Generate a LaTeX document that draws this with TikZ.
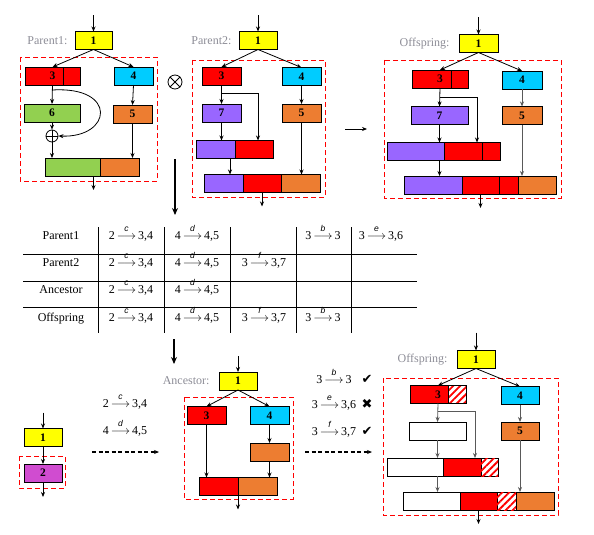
\documentclass[tikz,border=0pt]{standalone}
\usepackage{fontspec}
\setmainfont{Liberation Serif}
\setsansfont{Liberation Sans}
\newfontfamily\symfont{DejaVu Sans}
\usepackage{amsmath}
\usetikzlibrary{positioning,arrows.meta,patterns.meta}
\definecolor{cyel}{HTML}{FFFF00}
\definecolor{cred}{HTML}{FF0000}
\definecolor{ccyan}{HTML}{00CCFF}
\definecolor{cgreen}{HTML}{92D050}
\definecolor{corange}{HTML}{ED7D31}
\definecolor{cpurple}{HTML}{9966FF}
\definecolor{cmag}{HTML}{D04CD0}
\definecolor{clbl}{HTML}{8C8C96}
\newcommand{\rul}[3]{#1$\,\overset{\raisebox{0.5pt}{\fontsize{8.5}{8.5}\sffamily\itshape #2}}{\longrightarrow}\,$#3}
\tikzset{
  every node/.style={font=\fontsize{12}{14}\selectfont},
  box/.style={draw, line width=.8pt, minimum height=18, inner sep=0, outer sep=0, font=\fontsize{11.5}{13}\selectfont\bfseries},
  hatch/.style={box, fill=white, postaction={pattern={Lines[angle=45,distance=5pt,line width=1.8pt]}, pattern color=cred}},
  lbl/.style={text=clbl},
  cell/.style={anchor=base, inner sep=0pt},
  arr/.style={-{Stealth[length=5pt,width=4pt]}, line width=.8pt},
  garr/.style={arr, draw=black!65},
  bigarr/.style={-{Stealth[length=7pt,width=6pt]}, line width=2.2pt},
  darr/.style={arr, dash pattern=on 4pt off 2.5pt, line width=1.2pt},
  dbox/.style={draw=cred, dash pattern=on 5pt off 3pt, line width=.9pt}
}
\begin{document}
\begin{tikzpicture}[x=1pt, y=-1pt]
  \useasboundingbox (0,0) rectangle (594,535);
  % Parent1
  \node[box, fill=cyel, minimum width=37] (a1) at (93.5,40.5) {1};
  \node[lbl, left=4pt of a1] (a1l) {Parent1:};
  \draw[dbox] (20,57) rectangle (157,181);
  \node[box, fill=cred, minimum width=55] (a3) at (52.5,76) {3};
  \draw[line width=.8pt] ([shift={(38,0)}]a3.north west) -- ([shift={(38,0)}]a3.south west);
  \node[box, fill=ccyan, minimum width=39] (a4) at (133.5,76) {4};
  \node[box, fill=cgreen, minimum width=56] (a6) at (52,113) {6};
  \node[box, fill=corange, minimum width=39] (a5) at (132.5,114) {5};
  \node[circle, draw, line width=.8pt, minimum size=12, inner sep=0] (aplus) at (52,136) {};
  \draw[line width=.8pt] (aplus.north) -- (aplus.south) (aplus.west) -- (aplus.east);
  \node[box, fill=cgreen, minimum width=55, anchor=west] (ab1) at (45,167) {};
  \node[box, fill=corange, minimum width=39, anchor=west] (ab2) at (ab1.east) {};
  \draw[arr] ([shift={(0,-16)}]a1.north) -- (a1);
  \draw[arr] (a1.south) -- (a3.north);
  \draw[arr] (a1.south) -- (a4.north);
  \draw[arr] (a3.south) -- (a6.north);
  \draw[arr] ([shift={(0,5)}]a3.south) .. controls (118,86) and (112,138) .. (aplus.east);
  \draw[arr] (a6.south) -- (aplus.north);
  \draw[arr] (aplus.south) -- (aplus.south |- ab1.north);
  \draw[arr] (a4.south) -- (a5.north);
  \draw[arr] (a5.south) -- (a5.south |- ab2.north);
  \draw[arr] (a1.south |- ab1.south) -- ++(0,14);
  % crossover sign
  \node[circle, draw, line width=.8pt, minimum size=14, inner sep=0] (xo) at (175,82) {};
  \draw[line width=.8pt] (xo.north east) -- (xo.south west) (xo.north west) -- (xo.south east);
  % Parent2
  \node[box, fill=cyel, minimum width=38] (b1) at (258,40.5) {1};
  \node[lbl, left=4pt of b1] (b1l) {Parent2:};
  \draw[dbox] (192,60) rectangle (325,197);
  \node[box, fill=cred, minimum width=39] (b3) at (221.5,76) {3};
  \node[box, fill=ccyan, minimum width=39] (b4) at (301.5,76.5) {4};
  \node[box, fill=cpurple, minimum width=39] (b7) at (221.5,113) {7};
  \node[box, fill=corange, minimum width=39] (b5) at (301.5,113) {5};
  \node[box, fill=cpurple, minimum width=39, anchor=west] (bm1) at (196,149.5) {};
  \node[box, fill=cred, minimum width=38, anchor=west] (bm2) at (bm1.east) {};
  \node[box, fill=cpurple, minimum width=39, anchor=west] (bb1) at (204,183.5) {};
  \node[box, fill=cred, minimum width=38, anchor=west] (bb2) at (bb1.east) {};
  \node[box, fill=corange, minimum width=39, anchor=west] (bb3) at (bb2.east) {};
  \draw[arr] ([shift={(0,-16)}]b1.north) -- (b1);
  \draw[arr] (b1.south) -- (b3.north);
  \draw[arr] (b1.south) -- (b4.north);
  \draw[arr] (b3.south) -- (b7.north);
  \draw[arr] ([shift={(0,8)}]b3.south) -| ([shift={(4,0)}]bm2.north);
  \draw[arr] (b7.south) -- (b7.south |- bm1.north);
  \draw[arr] ([shift={(-5,0)}]bm1.south east) -- ([shift={(-5,0)}]bm1.south east |- bb1.north);
  \draw[arr] (b4.south) -- (b5.north);
  \draw[arr] (b5.south) -- (b5.south |- bb3.north);
  \draw[arr] (bb2.south) -- ++(0,14);
  % to offspring
  \coordinate (g1) at (345,129); \coordinate (g2) at (367,129);
  \draw[arr] (g1) -- (g2);
  % Offspring
  \node[box, fill=cyel, minimum width=39] (c1) at (478.5,43.5) {1};
  \node[lbl, left=6pt of c1] (c1l) {Offspring:};
  \draw[dbox] (384,60) rectangle (561,198);
  \node[box, fill=cred, minimum width=56] (c3) at (440,79) {3};
  \draw[line width=.8pt] ([shift={(39,0)}]c3.north west) -- ([shift={(39,0)}]c3.south west);
  \node[box, fill=ccyan, minimum width=40] (c4) at (522,80) {4};
  \node[box, fill=cpurple, minimum width=57] (c7) at (439.5,115.5) {7};
  \node[box, fill=corange, minimum width=40] (c5) at (522,115.5) {5};
  \node[box, fill=cpurple, minimum width=57, anchor=west] (cm1) at (387,151.5) {};
  \node[box, fill=cred, minimum width=38, anchor=west] (cm2) at (cm1.east) {};
  \node[box, fill=cred, minimum width=18, anchor=west] (cm3) at (cm2.east) {};
  \node[box, fill=cpurple, minimum width=58, anchor=west] (cb1) at (404,185) {};
  \node[box, fill=cred, minimum width=37, anchor=west] (cb2) at (cb1.east) {};
  \node[box, fill=cred, minimum width=19, anchor=west] (cb3) at (cb2.east) {};
  \node[box, fill=corange, minimum width=38, anchor=west] (cb4) at (cb3.east) {};
  \draw[arr] ([shift={(0,-17)}]c1.north) -- (c1);
  \draw[arr] (c1.south) -- (c3.north);
  \draw[arr] (c1.south) -- (c4.north);
  \draw[arr] (c3.south) -- (c7.north);
  \draw[arr] ([shift={(0,9)}]c3.south) -| ([shift={(-5,0)}]cm2.north east);
  \draw[arr] (c7.south) -- (c7.south |- cm1.north);
  \draw[arr] (c7.south |- cm1.south) -- (c7.south |- cb1.north);
  \draw[garr] (c4.south) -- (c5.north);
  \draw[garr] (c5.south) -- (c5.south |- cb4.north);
  \draw[arr] (cb2.south) -- ++(0,14);
  % down to the table
  \coordinate (h1) at (175,159); \coordinate (h2) at (175,215);
  \draw[bigarr] (h1) -- (h2);
  % table
  \foreach \y in {254,281,307} \draw[line width=.8pt] (23,\y) -- (417,\y);
  \foreach \x in {98,164,230,296,351} \draw[line width=.8pt] (\x,227) -- (\x,333);
  \foreach \n/\y in {Parent1/239, Parent2/266, Ancestor/293, Offspring/321}
    \node[cell] (t\n) at (61,\y) {\n};
  \foreach \x/\y/\t [count=\i] in {131/239/{\rul{2}{c}{3,4}}, 197/239/{\rul{4}{d}{4,5}},
      323/239/{\rul{3}{b}{3}}, 381/239/{\rul{3}{e}{3,6}},
      131/266/{\rul{2}{c}{3,4}}, 197/266/{\rul{4}{d}{4,5}}, 264/266/{\rul{3}{f}{3,7}},
      131/293/{\rul{2}{c}{3,4}}, 197/293/{\rul{4}{d}{4,5}},
      131/321/{\rul{2}{c}{3,4}}, 197/321/{\rul{4}{d}{4,5}}, 264/321/{\rul{3}{f}{3,7}},
      323/321/{\rul{3}{b}{3}}}
    \node[cell] (tc\i) at (\x,\y) {\t};
  \coordinate (h3) at (174,339); \coordinate (h4) at (174,364);
  \draw[bigarr] (h3) -- (h4);
  % root
  \node[box, fill=cyel, minimum width=38] (d1) at (43,437.5) {1};
  \draw[dbox] (19,456) rectangle (65,488);
  \node[box, fill=cmag, minimum width=38] (d2) at (43,473) {2};
  \draw[arr] ([shift={(0,-16)}]d1.north) -- (d1);
  \draw[arr] (d1) -- (d2);
  \draw[arr] (d2.south) -- ++(0,15);
  \node[cell] (r1) at (125,407) {\rul{2}{c}{3,4}};
  \node[cell] (r2) at (125,434) {\rul{4}{d}{4,5}};
  \coordinate (k1) at (92,452); \coordinate (k2) at (159,452);
  \draw[darr] (k1) -- (k2);
  % Ancestor
  \node[box, fill=cyel, minimum width=38] (e1) at (238,381) {1};
  \node[lbl, left=6pt of e1] (e1l) {Ancestor:};
  \draw[dbox] (184,397) rectangle (293,499);
  \node[box, fill=cred, minimum width=39] (e3) at (206.5,415.5) {3};
  \node[box, fill=ccyan, minimum width=39] (e4) at (269.5,415.5) {4};
  \node[box, fill=corange, minimum width=39] (e5) at (269.5,452) {};
  \node[box, fill=cred, minimum width=39, anchor=west] (eb1) at (199,486.5) {};
  \node[box, fill=corange, minimum width=39, anchor=west] (eb2) at (eb1.east) {};
  \draw[arr] ([shift={(0,-16)}]e1.north) -- (e1);
  \draw[arr] (e1.south) -- (e3.north);
  \draw[arr] (e1.south) -- (e4.north);
  \draw[arr] (e3.south) -- (e3.south |- eb1.north);
  \draw[arr] (e4.south) -- (e5.north);
  \draw[arr] (e5.south) -- (e5.south |- eb2.north);
  \draw[arr] (eb1.south east) -- ++(0,14);
  % checked rules
  \foreach \y/\t/\m [count=\i] in {383/{\rul{3}{b}{3}}/✔, 408/{\rul{3}{e}{3,6}}/✖, 435/{\rul{3}{f}{3,7}}/✔} {
    \node[cell] (s\i) at (334,\y) {\t};
    \node[cell, font=\symfont\fontsize{13}{13}\selectfont] (m\i) at (367,\y) {\m};
  }
  \coordinate (k3) at (305,452); \coordinate (k4) at (372,452);
  \draw[darr] (k3) -- (k4);
  % Offspring after repair
  \node[box, fill=cyel, minimum width=38] (f1) at (476,359.5) {1};
  \node[lbl, left=6pt of f1] (f1l) {Offspring:};
  \draw[dbox] (383,378) rectangle (558,515);
  \node[box, fill=cred, minimum width=56] (f3) at (438,394.5) {3};
  \path[hatch] ([shift={(38,0)}]f3.north west) rectangle (f3.south east);
  \draw[line width=.8pt] ([shift={(38,0)}]f3.north west) rectangle (f3.south east);
  \node[box, fill=ccyan, minimum width=38] (f4) at (520,395.5) {4};
  \node[box, fill=white, minimum width=57] (fw) at (437.5,431) {};
  \node[box, fill=corange, minimum width=38] (f5) at (520,431) {5};
  \node[box, fill=white, minimum width=56, anchor=west] (fm1) at (387,467) {};
  \node[box, fill=cred, minimum width=38, anchor=west] (fm2) at (fm1.east) {};
  \node[hatch, minimum width=17, anchor=west] (fm3) at (fm2.east) {};
  \node[box, fill=white, minimum width=57, anchor=west] (fb1) at (403,501) {};
  \node[box, fill=cred, minimum width=37, anchor=west] (fb2) at (fb1.east) {};
  \node[hatch, minimum width=19, anchor=west] (fb3) at (fb2.east) {};
  \node[box, fill=corange, minimum width=38, anchor=west] (fb4) at (fb3.east) {};
  \draw[arr] ([shift={(0,-18)}]f1.north) -- (f1);
  \draw[arr] (f1.south) -- (f3.north);
  \draw[arr] (f1.south) -- (f4.north);
  \draw[garr] (f3.south) -- (fw.north);
  \draw[garr] ([shift={(0,8)}]f3.south) -| ([shift={(-6,0)}]fm2.north east);
  \draw[garr] (fw.south) -- (fw.south |- fm1.north);
  \draw[garr] (fw.south |- fm1.south) -- (fw.south |- fb1.north);
  \draw[garr] (f4.south) -- (f5.north);
  \draw[garr] (f5.south) -- (f5.south |- fb4.north);
  \draw[arr] (fb2.south) -- ++(0,14);
\end{tikzpicture}
\end{document}
